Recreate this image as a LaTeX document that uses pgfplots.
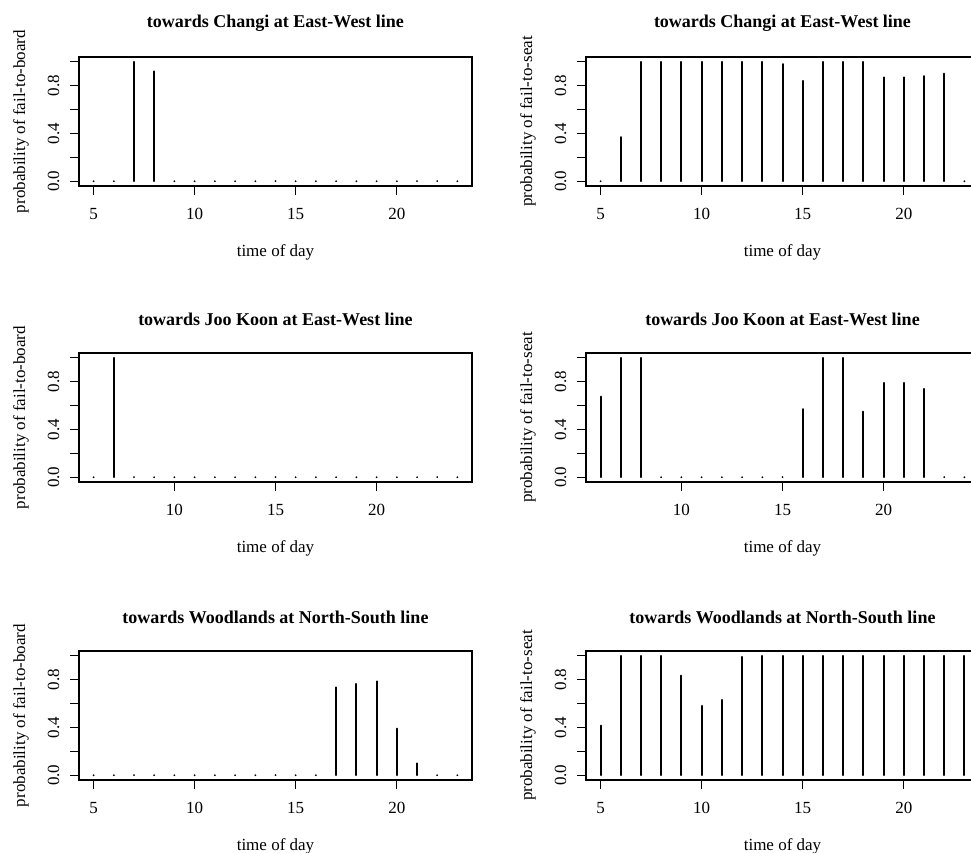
\documentclass[border=0pt]{standalone}
\usepackage{fontspec}
\setmainfont{Liberation Serif}
\usepackage{pgfplots}
\pgfplotsset{compat=1.18}
\newcommand{\lab}{\fontsize{17}{19}\selectfont}
\pgfplotsset{
  rpanel/.style={
    scale only axis, width=393pt, height=129pt,
    anchor=south west,
    ymin=-0.04, ymax=1.04,
    axis line style={line width=1.5pt, black},
    every tick/.style={line width=1.3pt, black},
    tick align=outside, major tick length=9pt,
    xtick pos=bottom, ytick pos=left,
    ytick={0,0.2,0.4,0.6,0.8,1},
    yticklabels={0.0,{},0.4,{},0.8,{}},
    /pgf/number format/assume math mode=true,
    ticklabel style={font=\lab},
    xticklabel style={anchor=center, yshift=-19pt},
    yticklabel style={rotate=90, anchor=center, yshift=16.5pt},
    xlabel={time of day},
    xlabel style={font=\lab, at={(axis description cs:0.5,0)}, anchor=center, yshift=-66pt},
    ylabel style={font=\lab, at={(axis description cs:0,0.5)}, anchor=center, yshift=58pt},
    title style={font=\bfseries\fontsize{18}{20}\selectfont, at={(axis description cs:0.5,1)}, anchor=center, yshift=28pt},
    clip=false,
  },
  rows13/.style={xmin=4.28, xmax=23.72, xtick={5,10,15,20}, xticklabels={5,10,15,20}},
  row2/.style={xmin=5.28, xmax=24.72, xtick={10,15,20}, xticklabels={10,15,20}},
  hbar/.style={ycomb, black, line width=2pt, line cap=round, mark=none},
}
\begin{document}
\begin{tikzpicture}
\useasboundingbox (0pt,0pt) rectangle (971pt,-852pt);
\clip (0pt,0pt) rectangle (971pt,-852pt);
% Row 1 left
\begin{axis}[rpanel, rows13, at={(79pt,-186pt)},
  title={towards Changi at East-West line}, ylabel={probability of fail-to-board}]
\addplot[hbar] coordinates {(5,0) (6,0) (7,1.0) (8,0.92) (9,0) (10,0) (11,0) (12,0) (13,0) (14,0) (15,0) (16,0) (17,0) (18,0) (19,0) (20,0) (21,0) (22,0) (23,0)};
\end{axis}
% Row 1 right
\begin{axis}[rpanel, rows13, at={(586pt,-186pt)},
  title={towards Changi at East-West line}, ylabel={probability of fail-to-seat}]
\addplot[hbar] coordinates {(5,0) (6,0.37) (7,1.0) (8,1.0) (9,1.0) (10,1.0) (11,1.0) (12,1.0) (13,1.0) (14,0.98) (15,0.84) (16,1.0) (17,1.0) (18,1.0) (19,0.87) (20,0.87) (21,0.88) (22,0.90) (23,0)};
\end{axis}
% Row 2 left
\begin{axis}[rpanel, row2, at={(79pt,-482pt)},
  title={towards Joo Koon at East-West line}, ylabel={probability of fail-to-board}]
\addplot[hbar] coordinates {(6,0) (7,1.0) (8,0) (9,0) (10,0) (11,0) (12,0) (13,0) (14,0) (15,0) (16,0) (17,0) (18,0) (19,0) (20,0) (21,0) (22,0) (23,0) (24,0)};
\end{axis}
% Row 2 right
\begin{axis}[rpanel, row2, at={(586pt,-482pt)},
  title={towards Joo Koon at East-West line}, ylabel={probability of fail-to-seat}]
\addplot[hbar] coordinates {(6,0.675) (7,1.0) (8,1.0) (9,0) (10,0) (11,0) (12,0) (13,0) (14,0) (15,0) (16,0.57) (17,1.0) (18,1.0) (19,0.55) (20,0.79) (21,0.79) (22,0.74) (23,0) (24,0)};
\end{axis}
% Row 3 left
\begin{axis}[rpanel, rows13, at={(79pt,-780pt)},
  title={towards Woodlands at North-South line}, ylabel={probability of fail-to-board}]
\addplot[hbar] coordinates {(5,0) (6,0) (7,0) (8,0) (9,0) (10,0) (11,0) (12,0) (13,0) (14,0) (15,0) (16,0) (17,0.736) (18,0.765) (19,0.786) (20,0.39) (21,0.10) (22,0) (23,0)};
\end{axis}
% Row 3 right
\begin{axis}[rpanel, rows13, at={(586pt,-780pt)},
  title={towards Woodlands at North-South line}, ylabel={probability of fail-to-seat}]
\addplot[hbar] coordinates {(5,0.415) (6,1.0) (7,1.0) (8,1.0) (9,0.834) (10,0.58) (11,0.63) (12,0.99) (13,1.0) (14,1.0) (15,1.0) (16,1.0) (17,1.0) (18,1.0) (19,1.0) (20,1.0) (21,1.0) (22,1.0) (23,1.0)};
\end{axis}
\end{tikzpicture}
\end{document}
